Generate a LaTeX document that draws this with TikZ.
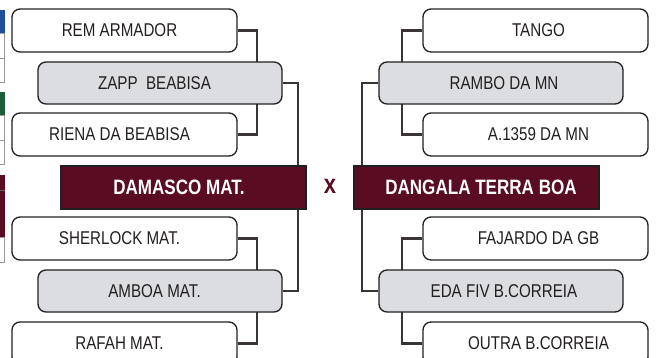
\documentclass[tikz,border=0pt]{standalone}
\usepackage{fontspec}
\setmainfont{Liberation Sans}[FakeStretch=0.82]
\definecolor{maroon}{HTML}{5A0D22}
\definecolor{boxgray}{HTML}{DCDDE0}
\definecolor{ink}{HTML}{231F20}
\definecolor{fragblue}{HTML}{1F4F9B}
\definecolor{fraggreen}{HTML}{1B5E3B}
\pgfdeclarelayer{bg}
\pgfsetlayers{bg,main}
\tikzset{
  wbox/.style={draw=ink, line width=1.3pt, rounded corners=8pt, fill=white, minimum width=225pt, minimum height=43pt, inner sep=0pt},
  gbox/.style={wbox, fill=boxgray, minimum width=244pt, minimum height=42pt},
  mbox/.style={draw=ink, line width=1.3pt, fill=maroon, minimum width=245pt, minimum height=43pt, inner sep=0pt},
  lbl/.style={font=\fontsize{18.5}{20}\selectfont, text=ink, inner sep=0pt},
  blbl/.style={font=\fontsize{20.8}{22}\selectfont\bfseries, text=white, inner sep=0pt},
  conn/.style={draw=ink!90, line width=2.2pt},
  frag/.style={draw=gray!80, line width=0.8pt},
}
\begin{document}
\begin{tikzpicture}[x=1pt,y=-1pt]
\useasboundingbox (0,0) rectangle (656,358);
\clip (0,0) rectangle (656,358);
% left edge fragments
\fill[fragblue] (-10,10) rectangle (4.5,33);
\draw[frag, fill=white] (-10,33) rectangle (4.5,58);
\draw[frag, fill=white] (-10,58) rectangle (4.5,82);
\fill[fraggreen] (-10,92) rectangle (4.5,115);
\draw[frag, fill=white] (-10,115) rectangle (4.5,140);
\draw[frag, fill=white] (-10,140) rectangle (4.5,164);
\fill[maroon] (-10,175) rectangle (4.5,237);
\draw[black!60, line width=0.6pt] (-10,190) -- (4.5,190);
\draw[frag, fill=white] (-10,237) rectangle (4.5,262);
% left bracket
\node[wbox] (rem) at (124.5,30.5) {};
\node[gbox] (zapp) at (160,83) {};
\node[wbox] (riena) at (124.5,134.5) {};
\node[mbox] (damasco) at (183.5,187.5) {};
\node[wbox] (sherlock) at (124.5,238.5) {};
\node[gbox] (amboa) at (160,291) {};
\node[wbox] (rafah) at (124.5,343.5) {};
\node[lbl] at (119.5,30.5) {REM ARMADOR};
\node[lbl] at (154.5,83) {ZAPP\ \ BEABISA};
\node[lbl] at (119.5,134.5) {RIENA DA BEABISA};
\node[blbl] at (179,187.5) {DAMASCO MAT.};
\node[lbl] at (119.5,238.5) {SHERLOCK MAT.};
\node[lbl] at (154.5,291) {AMBOA MAT.};
\node[lbl] at (119.5,343.5) {RAFAH MAT.};
% right bracket
\node[wbox] (tango) at (535.5,30.5) {};
\node[gbox] (rambo) at (501,83) {};
\node[wbox] (a1359) at (535.5,134.5) {};
\node[mbox] (dangala) at (476.5,187.5) {};
\node[wbox] (fajardo) at (535.5,238.5) {};
\node[gbox] (eda) at (501,291) {};
\node[wbox] (outra) at (535.5,343.5) {};
\node[lbl] at (538.5,30.5) {TANGO};
\node[lbl] at (504,83) {RAMBO DA MN};
\node[lbl] at (538.5,134.5) {A.1359 DA MN};
\node[blbl] at (481,187.5) {DANGALA TERRA BOA};
\node[lbl] at (538.5,238.5) {FAJARDO DA GB};
\node[lbl] at (504,291) {EDA FIV B.CORREIA};
\node[lbl] at (538.5,343.5) {OUTRA B.CORREIA};
% versus
\node[font=\fontsize{27}{28}\selectfont\bfseries, text=maroon, inner sep=0pt] (vs) at (330,186) {x};
% connectors
\begin{pgfonlayer}{bg}
\draw[conn] (rem.east) -- ++(19,0) |- (riena.east);
\draw[conn] (zapp.east) -| ([xshift=-9pt]damasco.north east);
\draw[conn] (sherlock.east) -- ++(19,0) |- (rafah.east);
\draw[conn] (amboa.east) -| ([xshift=-9pt]damasco.south east);
\draw[conn] (tango.west) -- ++(-20,0) |- (a1359.west);
\draw[conn] (rambo.west) -| ([xshift=9pt]dangala.north west);
\draw[conn] (fajardo.west) -- ++(-20,0) |- (outra.west);
\draw[conn] (eda.west) -| ([xshift=9pt]dangala.south west);
\end{pgfonlayer}
\end{tikzpicture}
\end{document}
